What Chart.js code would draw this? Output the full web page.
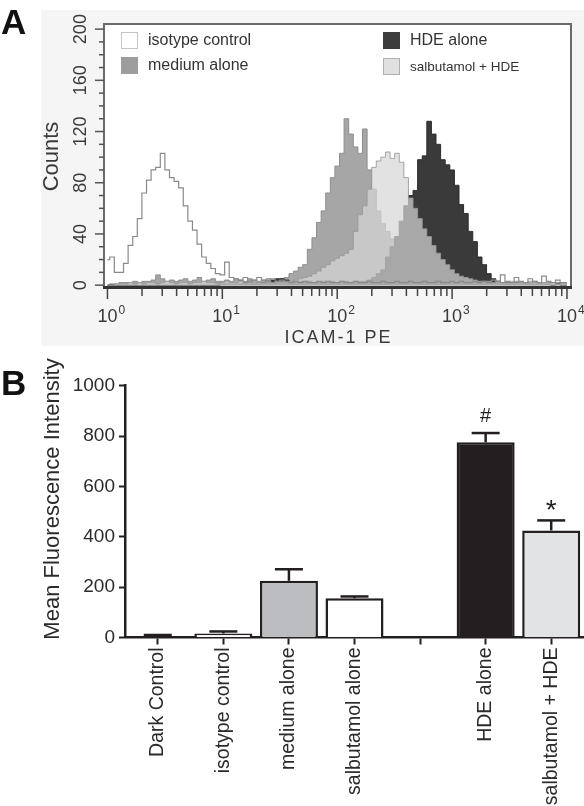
<!DOCTYPE html>
<html><head><meta charset="utf-8">
<script src="https://cdn.jsdelivr.net/npm/chart.js@4.4.1/dist/chart.umd.min.js"></script>
<style>
html,body{margin:0;padding:0;background:#fff;width:584px;height:806px;overflow:hidden}
#ca{position:absolute;left:0;top:0}
#cb{position:absolute;left:0;top:345px}
</style></head><body>
<canvas id="ca" width="584" height="360"></canvas>
<canvas id="cb" width="584" height="461"></canvas>
<script>
const FONT = "'Liberation Sans', Arial, Helvetica, sans-serif";

// ---------- Panel A : histogram data (counts per channel, channels 0.04 decade apart from 10^0) ----------
const channelStepDecades = 0.04;
const channelCount = 101;
const histLegend = ['isotype control', 'medium alone', 'HDE alone', 'salbutamol + HDE'];
const isotypeCounts = [
  20,22,10,10,17,31,38,52,72,82,
  90,92,103,90,84,81,76,62,50,43,
  32,22,17,13,9,8,18,6,5,4,
  6,3,4,6,4,3,5,3,4,3,
  2,3,2,3,2,2,3,2,3,2,
  2,3,2,2,3,2,2,3,2,2,
  3,2,2,3,2,2,3,2,2,3,
  2,2,3,2,2,3,2,3,2,2,
  3,2,3,2,4,3,8,3,2,6,
  3,2,5,3,2,7,3,2,4,2,
  2];
const mediumCounts = [
  0,1,1,2,2,2,3,2,3,3,
  4,8,5,3,4,3,4,5,3,4,
  6,3,4,5,3,3,4,3,5,4,
  3,5,4,3,4,5,3,4,5,6,
  9,11,14,16,28,37,49,58,72,84,
  93,103,130,118,108,103,122,90,75,58,
  48,42,36,32,26,22,18,14,11,9,
  7,6,5,4,4,3,2,3,2,3,
  2,2,3,2,2,3,2,2,2,3,
  2,2,2,3,2,2,2,2,2,1,
  1];
const hdeCounts = [
  0,0,0,0,0,0,0,0,0,0,
  0,0,0,0,0,0,0,0,0,0,
  0,0,0,0,0,1,1,1,1,1,
  2,1,2,1,2,3,4,5,5,4,
  2,2,3,2,3,2,2,3,2,3,
  2,3,3,2,3,3,3,4,6,9,
  12,22,30,38,50,62,70,74,98,101,
  128,118,110,98,94,90,78,63,56,42,
  34,22,16,9,5,3,2,2,1,2,
  1,1,2,1,1,1,1,0,1,0,
  0];
const salbHdeCounts = [
  0,0,1,1,1,2,1,2,1,2,
  2,1,2,3,2,1,2,2,1,2,
  2,3,2,2,1,2,3,2,2,3,
  2,2,3,2,2,3,2,3,3,3,
  3,4,5,6,7,9,11,14,16,19,
  21,23,25,28,42,55,62,75,92,97,
  100,104,99,103,96,84,68,60,52,44,
  38,31,25,20,16,12,9,7,6,5,
  4,3,3,3,2,3,2,2,3,2,
  2,2,3,2,2,2,2,2,1,1,
  1];
const countTicks = [0, 40, 80, 120, 160, 200];
const countMinorStep = 10;
const decadeTicks = [0, 1, 2, 3, 4];
const xTitleA = 'ICAM-1 PE';
const yTitleA = 'Counts';

// ---------- Panel B : bar data ----------
const mfiCategories = ['Dark Control', 'isotype control', 'medium alone', 'salbutamol alone', '', 'HDE alone', 'salbutamol + HDE'];
const mfiValues = [6, 16, 225, 156, null, 775, 425];
const mfiErrors = [4, 8, 46, 7, null, 37, 40];
const mfiMarks = ['', '', '', '', '', '#', '*'];
const mfiTicks = [0, 200, 400, 600, 800, 1000];
const yTitleB = 'Mean Fluorescence Intensity';

const channelX = Array.from({length: channelCount}, (_, i) => Math.pow(10, i * channelStepDecades));

function seg(ctx, x1, y1, x2, y2) { ctx.beginPath(); ctx.moveTo(x1, y1); ctx.lineTo(x2, y2); ctx.stroke(); }

const panelAPlugin = {
  id: 'panelA',
  beforeDraw(chart) {
    const ctx = chart.ctx, a = chart.chartArea;
    ctx.save();
    ctx.fillStyle = '#f5f5f5'; ctx.fillRect(41, 10, 543, 336);
    ctx.fillStyle = '#ffffff'; ctx.fillRect(a.left, a.top, a.right - a.left, a.bottom - a.top);
    ctx.restore();
  },
  afterDraw(chart) {
    const ctx = chart.ctx, a = chart.chartArea, xs = chart.scales.x, ys = chart.scales.y;
    ctx.save();
    // frame
    ctx.strokeStyle = '#6a6a6a'; ctx.lineWidth = 2;
    ctx.beginPath(); ctx.moveTo(a.left, a.bottom); ctx.lineTo(a.left, a.top); ctx.lineTo(a.right, a.top); ctx.lineTo(a.right, a.bottom); ctx.stroke();
    ctx.strokeStyle = '#333'; ctx.lineWidth = 3;
    seg(ctx, a.left - 1, a.bottom - 1.5, a.right + 1, a.bottom - 1.5);
    // y ticks
    ctx.strokeStyle = '#555'; ctx.lineWidth = 1.5;
    for (let v = 0; v <= countTicks[countTicks.length - 1]; v += countMinorStep) {
      const y = ys.getPixelForValue(v);
      const len = countTicks.includes(v) ? 9 : 5;
      seg(ctx, a.left - len, y, a.left, y);
    }
    ctx.fillStyle = '#3a3a3a';
    ctx.font = '18px ' + FONT; ctx.textAlign = 'center'; ctx.textBaseline = 'middle';
    countTicks.forEach(v => {
      ctx.save(); ctx.translate(81, ys.getPixelForValue(v)); ctx.rotate(-Math.PI / 2);
      ctx.fillText(String(v), 0, 0); ctx.restore();
    });
    // x ticks
    ctx.strokeStyle = '#444'; ctx.lineWidth = 1.5;
    decadeTicks.forEach(d => {
      const maxM = d === decadeTicks[decadeTicks.length - 1] ? 1 : 9;
      for (let m = 1; m <= maxM; m++) {
        const x = xs.getPixelForValue(m * Math.pow(10, d));
        seg(ctx, x, a.bottom, x, a.bottom + (m === 1 ? 10 : 7));
      }
    });
    decadeTicks.forEach(d => {
      const x = xs.getPixelForValue(Math.pow(10, d));
      ctx.font = '18px ' + FONT; ctx.textAlign = 'center'; ctx.textBaseline = 'alphabetic';
      ctx.fillText('10', x, 322);
      const w = ctx.measureText('10').width;
      ctx.font = '12px ' + FONT; ctx.textAlign = 'left';
      ctx.fillText(String(d), x + w / 2 + 1, 314);
    });
    // titles
    ctx.font = '18px ' + FONT; ctx.textAlign = 'center'; ctx.textBaseline = 'alphabetic';
    ctx.letterSpacing = '2px';
    ctx.fillText(xTitleA, (a.left + a.right) / 2 + 1, 343);
    ctx.letterSpacing = '0px';
    ctx.save(); ctx.translate(52, (a.top + a.bottom) / 2); ctx.rotate(-Math.PI / 2);
    ctx.font = '22px ' + FONT; ctx.textBaseline = 'middle'; ctx.fillText(yTitleA, 0, 0); ctx.restore();
    // legend
    const items = [
      {t: histLegend[0], x: 121, y: 32, f: '#ffffff', s: '#c4c4c4', fs: 16},
      {t: histLegend[1], x: 121, y: 57, f: '#9d9d9d', s: '#9d9d9d', fs: 16},
      {t: histLegend[2], x: 383, y: 32, f: '#3c3c3c', s: '#3c3c3c', fs: 16},
      {t: histLegend[3], x: 383, y: 58, f: '#e0e0e0', s: '#b0b0b0', fs: 13.5}
    ];
    items.forEach(it => {
      ctx.fillStyle = it.f; ctx.fillRect(it.x, it.y, 17, 17);
      ctx.strokeStyle = it.s; ctx.lineWidth = 1; ctx.strokeRect(it.x + 0.5, it.y + 0.5, 16, 16);
      ctx.fillStyle = '#333'; ctx.font = it.fs + 'px ' + FONT; ctx.textAlign = 'left'; ctx.textBaseline = 'middle';
      ctx.fillText(it.t, it.x + 27, it.y + 9);
    });
    // panel letter
    ctx.fillStyle = '#111'; ctx.font = 'bold 35px ' + FONT; ctx.textAlign = 'left'; ctx.textBaseline = 'alphabetic';
    ctx.fillText('A', 1, 34);
    ctx.restore();
  }
};

new Chart(document.getElementById('ca'), {
  type: 'line',
  data: {
    labels: channelX,
    datasets: [
      {label: histLegend[0], data: isotypeCounts, order: 0, stepped: 'middle', fill: false, borderColor: '#8a8a8a', borderWidth: 1.2, backgroundColor: '#ffffff'},
      {label: histLegend[3], data: salbHdeCounts, order: 1, stepped: 'middle', fill: 'origin', borderColor: 'rgba(150,150,150,0.85)', borderWidth: 1, backgroundColor: 'rgba(214,214,214,0.71)'},
      {label: histLegend[2], data: hdeCounts, order: 2, stepped: 'middle', fill: 'origin', borderColor: '#2c2c2c', borderWidth: 1, backgroundColor: '#3a3a3a'},
      {label: histLegend[1], data: mediumCounts, order: 3, stepped: 'middle', fill: 'origin', borderColor: '#8e8e8e', borderWidth: 1, backgroundColor: '#a6a6a6'}
    ]
  },
  options: {
    responsive: false, animation: false, devicePixelRatio: 1,
    layout: {padding: {left: 104, top: 24, right: 13, bottom: 71}},
    elements: {point: {radius: 0}, line: {tension: 0}},
    plugins: {legend: {display: false}, tooltip: {enabled: false}},
    scales: {
      x: {type: 'logarithmic', display: false, min: Math.pow(10, -0.03), max: Math.pow(10, 4.035)},
      y: {type: 'linear', display: false, min: -3, max: 204}
    }
  },
  plugins: [panelAPlugin]
});

const panelBPlugin = {
  id: 'panelB',
  afterDatasetsDraw(chart) {
    const ctx = chart.ctx, xs = chart.scales.x, ys = chart.scales.y;
    ctx.save();
    ctx.strokeStyle = '#231f20'; ctx.lineWidth = 2.5; ctx.fillStyle = '#231f20';
    mfiValues.forEach((v, i) => {
      if (v == null) return;
      const x = xs.getPixelForValue(i);
      const y0 = ys.getPixelForValue(v), y1 = ys.getPixelForValue(v + mfiErrors[i]);
      seg(ctx, x, y0, x, y1);
      seg(ctx, x - 14, y1, x + 14, y1);
      if (mfiMarks[i] === '#') {
        ctx.font = '20px ' + FONT; ctx.textAlign = 'center'; ctx.textBaseline = 'alphabetic';
        ctx.fillText(mfiMarks[i], x, y1 - 11);
      } else if (mfiMarks[i]) {
        ctx.font = '28px ' + FONT; ctx.textAlign = 'center'; ctx.textBaseline = 'alphabetic';
        ctx.fillText(mfiMarks[i], x, y1 - 1);
      }
    });
    ctx.restore();
  },
  afterDraw(chart) {
    const ctx = chart.ctx;
    ctx.save();
    ctx.fillStyle = '#2b2b2b';
    ctx.translate(53, 154); ctx.rotate(-Math.PI / 2);
    ctx.font = '22px ' + FONT; ctx.textAlign = 'center'; ctx.textBaseline = 'middle';
    ctx.fillText(yTitleB, 0, 0);
    ctx.restore();
    ctx.save();
    ctx.fillStyle = '#111'; ctx.font = 'bold 35px ' + FONT; ctx.textAlign = 'left'; ctx.textBaseline = 'alphabetic';
    ctx.fillText('B', 1, 50);
    ctx.restore();
  }
};

new Chart(document.getElementById('cb'), {
  type: 'bar',
  data: {
    labels: mfiCategories,
    datasets: [{
      data: mfiValues,
      backgroundColor: ['#231f20', '#ffffff', '#bcbdc0', '#ffffff', '#ffffff', '#231f20', '#e2e3e5'],
      borderColor: '#231f20', borderWidth: 2.5, borderSkipped: 'bottom',
      barPercentage: 0.885, categoryPercentage: 1
    }]
  },
  options: {
    responsive: false, animation: false, devicePixelRatio: 1,
    layout: {padding: {left: 0, top: 40.7, right: 0, bottom: 0}},
    plugins: {legend: {display: false}, tooltip: {enabled: false}},
    scales: {
      x: {
        offset: true,
        grid: {offset: false, drawOnChartArea: false, drawTicks: true, tickLength: 7, tickWidth: 2, tickColor: '#231f20'},
        border: {display: true, color: '#231f20', width: 2.5},
        ticks: {autoSkip: false, minRotation: 90, maxRotation: 90, padding: 3, color: '#2b2b2b', font: {family: FONT, size: 19.5}},
        afterFit(s) { s.height = 168.5; }
      },
      y: {
        min: 0, max: 1000,
        afterBuildTicks(s) { s.ticks = mfiTicks.map(v => ({value: v})); },
        grid: {drawOnChartArea: false, drawTicks: true, tickLength: 6, tickWidth: 2, tickColor: '#231f20'},
        border: {display: true, color: '#231f20', width: 2.5},
        ticks: {padding: 4, color: '#2b2b2b', font: {family: FONT, size: 19}, callback: v => String(v)},
        afterFit(s) { s.width = 125; }
      }
    }
  },
  plugins: [panelBPlugin]
});
</script>
</body></html>
